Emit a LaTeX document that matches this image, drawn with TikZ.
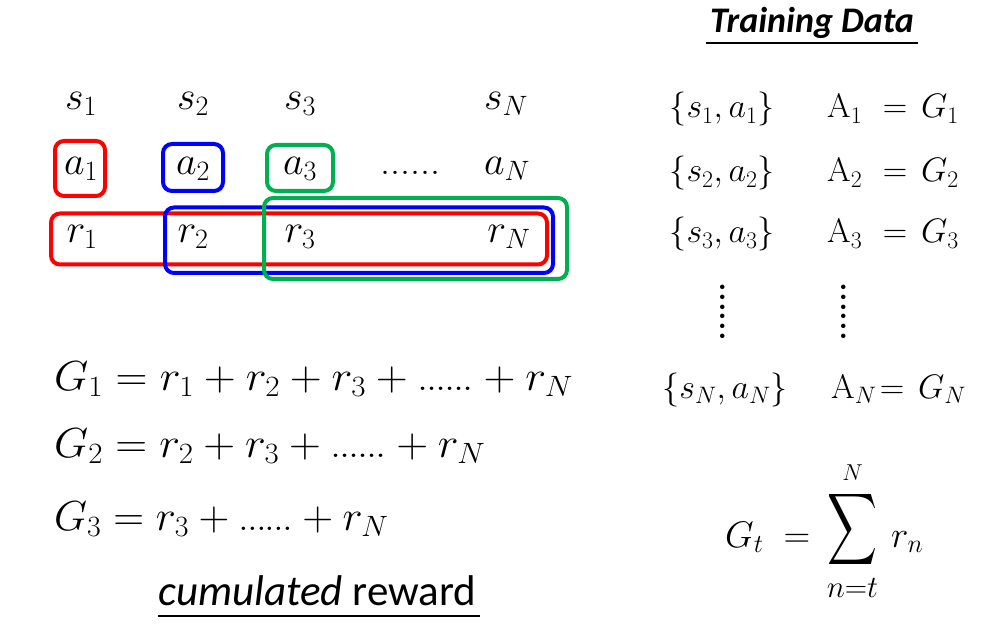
\documentclass[tikz,border=0pt]{standalone}
\usepackage{fix-cm}
\usepackage[no-math]{fontspec}
\newfontfamily\calibri{Carlito}
\usepackage{graphicx}
\definecolor{pred}{RGB}{255,0,0}
\definecolor{pblue}{RGB}{0,0,255}
\definecolor{pgreen}{RGB}{0,176,80}
\newcommand{\fs}[1]{\fontsize{#1}{#1}\selectfont}
\newcommand{\eqdots}{\hbox{.\kern-2pt.\kern-2pt.\kern-2pt.\kern-2pt.\kern-2pt.}}
\tikzset{
  x=1pt,y=-1pt,
  top/.style={anchor=base,inner sep=0pt,font=\fs{40}},
  eqn/.style={anchor=base west,inner sep=0pt,font=\fs{42}},
  rc/.style={anchor=base,inner sep=0pt,font=\fs{34}},
  rl/.style={anchor=base west,inner sep=0pt,font=\fs{34}},
  vdots/.style={inner sep=0pt,rotate=-90,font=\bfseries\fs{31}},
  hl/.style={line width=4pt,rounded corners=9pt},
  ul/.style={line width=1.8pt},
}
\begin{document}
\begin{tikzpicture}
\useasboundingbox (0,0) rectangle (993,636);
% top grid
\node[top] (s1) at (81,110) {$s_1$};
\node[top] (s2) at (193,110) {$s_2$};
\node[top] (s3) at (300,110) {$s_3$};
\node[top] (sN) at (506,110) {$s_N$};
\node[top] (a1) at (81,175) {$a_1$};
\node[top] (a2) at (193,175) {$a_2$};
\node[top] (a3) at (300,175) {$a_3$};
\node[top] (adots) at (410,175) {......};
\node[top] (aN) at (507,175) {$a_N$};
\node[top] (r1) at (82,243) {$r_1$};
\node[top] (r2) at (193,243) {$r_2$};
\node[top] (r3) at (300,243) {$r_3$};
\node[top] (rN) at (509,243) {$r_N$};
% boxes
\draw[hl,pred] (55,141) rectangle (105,196);
\draw[hl,pblue] (163,144) rectangle (223,191);
\draw[hl,pgreen] (267,145) rectangle (333,191);
\draw[hl,pred] (51,213.5) rectangle (547,264.5);
\draw[hl,pblue] (165,207.5) rectangle (553,273);
\draw[hl,pgreen] (264,198) rectangle (567,279);
% equations
\node[eqn] (g1) at (54,390) {\scalebox{1.056}[1]{$G_1 = r_1 + r_2 + r_3 + \eqdots + r_N$}};
\node[eqn] (g2) at (54,457) {\scalebox{1.052}[1]{$G_2 = r_2 + r_3 + \eqdots + r_N$}};
\node[eqn] (g3) at (54,530) {\scalebox{1.018}[1]{$G_3 = r_3 + \eqdots + r_N$}};
\node[anchor=base west,inner sep=0pt,font=\calibri\fs{43}] (cum) at (158,605) {\textit{cumulated} reward};
\draw[ul] (158,616) -- (480,616);
% training data
\node[anchor=base,inner sep=0pt,font=\calibri\bfseries\itshape\fs{36}] (td) at (812,33) {Training Data};
\draw[ul] (706,43) -- (918,43);
\node[rc] (p1) at (722,118) {$\{s_1, a_1\}$};
\node[rc] (p2) at (722,182) {$\{s_2, a_2\}$};
\node[rc] (p3) at (722,243) {$\{s_3, a_3\}$};
\node[rc] (pN) at (725,398) {$\{s_N, a_N\}$};
\node[rl] (A1) at (827,118) {$\mathrm{A}_1$};
\node[rl] (A2) at (827,182) {$\mathrm{A}_2$};
\node[rl] (A3) at (827,243) {$\mathrm{A}_3$};
\node[rl] (AN) at (831,398) {$\mathrm{A}_N$};
\node[rc] (e1) at (895,118) {$=$};
\node[rc] (e2) at (895,182) {$=$};
\node[rc] (e3) at (895,243) {$=$};
\node[rc] (eN) at (892,398) {$=$};
\node[rl] (G1) at (921,118) {$G_1$};
\node[rl] (G2) at (921,182) {$G_2$};
\node[rl] (G3) at (921,243) {$G_3$};
\node[rl] (GN) at (918,398) {$G_N$};
\node[vdots] (vd1) at (723,312) {......};
\node[vdots] (vd2) at (844,312) {......};
% G_t formula
\node[anchor=base west,inner sep=0pt,font=\fs{37}] (Gt) at (725,547) {$G_t$};
\node[anchor=base,inner sep=0pt,font=\fs{37}] (Gteq) at (797,547) {$=$};
\node[anchor=north,inner sep=0pt] (sum) at (852.5,465) {\vbox{\offinterlineskip
  \hbox to 64pt{\hss\fs{23}$N$\hss}
  \kern 9pt
  \hbox to 64pt{\hss\resizebox*{50pt}{80pt}{$\displaystyle\sum$}\hss}
  \kern 9pt
  \hbox to 64pt{\hss\fs{31}$n{=}t$\hss}}};
\node[anchor=base west,inner sep=0pt,font=\fs{37}] (rn) at (891,547) {$r_n$};
\end{tikzpicture}
\end{document}
